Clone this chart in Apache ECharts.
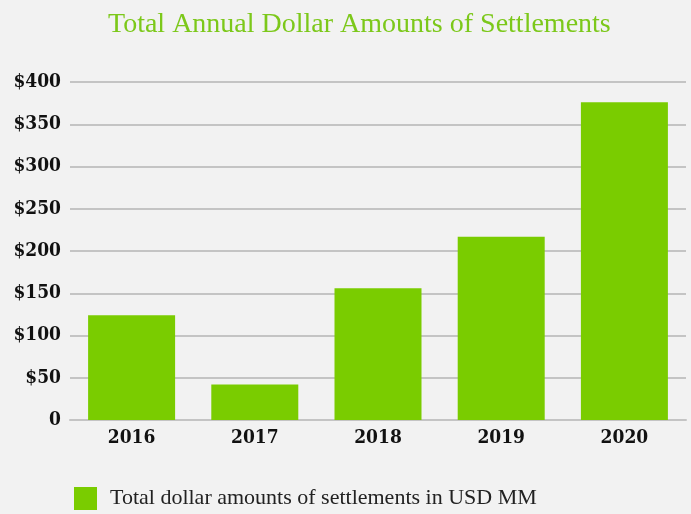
<!DOCTYPE html>
<html><head><meta charset="utf-8">
<script src="https://cdn.jsdelivr.net/npm/echarts@6/dist/echarts.min.js"></script>
<style>html,body{margin:0;padding:0;background:#f2f2f2;}#c{width:691px;height:514px;}</style>
</head><body><div id="c"></div>
<script>
const categories = ['2016','2017','2018','2019','2020'];
const settlements = [124, 42, 156, 217, 376];
const yTicks = [0, 50, 100, 150, 200, 250, 300, 350, 400];
const seriesName = 'Total dollar amounts of settlements in USD MM';
const titleText = 'Total Annual Dollar Amounts of Settlements';

const boldFont = '"DejaVu Serif Condensed", "DejaVu Serif", serif';
const chart = echarts.init(document.getElementById('c'), null, {renderer:'canvas'});
chart.setOption({
  backgroundColor: '#f2f2f2',
  animation: false,
  title: {
    text: titleText, left: 103, top: 6,
    textStyle: {fontFamily: 'Liberation Serif', fontWeight: 'normal', fontSize: 28, color: '#7cc81a'}
  },
  legend: {
    left: 69, top: 482, itemWidth: 23, itemHeight: 23, itemGap: 10,
    icon: 'rect',
    textStyle: {fontFamily: 'Liberation Serif', fontSize: 22, color: '#222', padding: [0,0,0,8]},
    data: [seriesName]
  },
  grid: {left: 70, right: 5, top: 82, bottom: 94, containLabel: false},
  xAxis: {
    type: 'category', data: categories,
    axisTick: {show: false},
    axisLine: {lineStyle: {color: '#c4c4c4', width: 2}},
    axisLabel: {fontFamily: boldFont, fontWeight: 'bold', fontSize: 19, color: '#111', margin: 9}
  },
  yAxis: {
    type: 'value', min: yTicks[0], max: yTicks[yTicks.length-1], interval: 50,
    axisLine: {show: false}, axisTick: {show: false},
    splitLine: {lineStyle: {color: '#c4c4c4', width: 2}},
    axisLabel: {
      fontFamily: boldFont, fontWeight: 'bold', fontSize: 19, color: '#111', margin: 9,
      formatter: v => v === 0 ? '0' : '$' + v
    }
  },
  series: [{
    name: seriesName, type: 'bar', data: settlements, barWidth: 87,
    itemStyle: {color: '#7acc00'}
  }]
});
</script></body></html>
